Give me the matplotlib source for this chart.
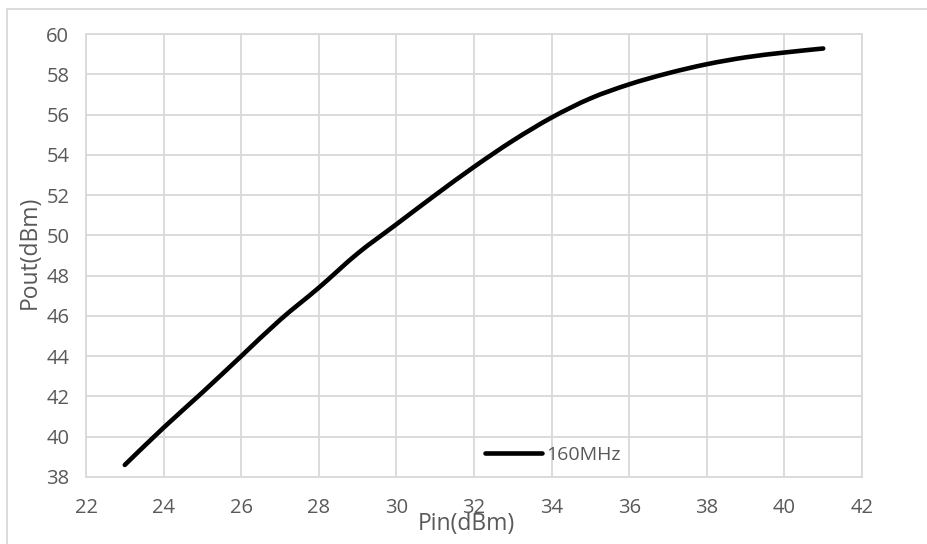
import matplotlib
matplotlib.use("Agg")
import numpy as np
import matplotlib.pyplot as plt
from matplotlib.lines import Line2D
from matplotlib.path import Path
from matplotlib.patches import PathPatch

pin_dbm = [23, 24, 25, 26, 27, 28, 29, 30, 31, 32, 33, 34, 35, 36, 37, 38, 39, 40, 41]
pout_dbm = [38.6, 40.45, 42.2, 44.0, 45.8, 47.4, 49.1, 50.55, 52.0, 53.4, 54.7, 55.85,
            56.8, 57.5, 58.05, 58.5, 58.84, 59.08, 59.28]
series_name = "160MHz"
x_ticks = [22, 24, 26, 28, 30, 32, 34, 36, 38, 40, 42]
y_ticks = [38, 40, 42, 44, 46, 48, 50, 52, 54, 56, 58, 60]

plt.rcParams['font.family'] = ['Open Sans', 'DejaVu Sans']

W, H = 927, 544
fig = plt.figure(figsize=(W / 100, H / 100), dpi=100)
ax = fig.add_axes([86 / W, 1 - 477 / H, (862 - 86) / W, (477 - 34) / H])

grid_c = '#d9d9d9'
text_c = '#595959'
lw = 3.3


def smooth_path(xs, ys, t=1 / 6):
    """Excel-like smoothed line: cubic Bezier segments through the data points."""
    p = np.column_stack([xs, ys]).astype(float)
    n = len(p)
    verts = [p[0]]
    codes = [Path.MOVETO]
    for i in range(n - 1):
        p0 = p[i - 1] if i > 0 else p[i]
        p1, p2 = p[i], p[i + 1]
        p3 = p[i + 2] if i + 2 < n else p[i + 1]
        c1 = p1 + (p2 - p0) * t
        c2 = p2 - (p3 - p1) * t
        verts += [c1, c2, p2]
        codes += [Path.CURVE4] * 3
    return Path(verts, codes)


patch = PathPatch(smooth_path(pin_dbm, pout_dbm), facecolor='none', edgecolor='black',
                  lw=lw, capstyle='round', joinstyle='round', zorder=3)
ax.add_patch(patch)

ax.set_xlim(22, 42)
ax.set_ylim(38, 60)
ax.set_xticks(x_ticks)
ax.set_yticks(y_ticks)
ax.grid(True, color=grid_c, lw=1.3)
ax.set_axisbelow(True)
for s in ax.spines.values():
    s.set_color(grid_c)
    s.set_linewidth(1.3)
ax.tick_params(length=0, labelsize=14.5, labelcolor=text_c)
ax.tick_params(axis='x', pad=15)
ax.tick_params(axis='y', pad=12)

ax.set_xlabel("Pin(dBm)", fontsize=16.5, color=text_c)
ax.xaxis.set_label_coords((466 - 86) / (862 - 86), -(524 - 477) / (477 - 34), transform=ax.transAxes)
ax.xaxis.label.set_va('center')
ax.set_ylabel("Pout(dBm)", fontsize=16.5, color=text_c)
ax.yaxis.set_label_coords(-(86 - 30) / (862 - 86), (477 - 252) / (477 - 34), transform=ax.transAxes)
ax.yaxis.label.set_va('center')

handle = Line2D([], [], color='black', lw=lw, solid_capstyle='round')
leg = ax.legend([handle], [series_name], loc='center left',
                bbox_to_anchor=((485 - 86) / (862 - 86), (477 - 455) / (477 - 34)),
                frameon=False, fontsize=14, handlelength=2.95, handletextpad=0.2,
                borderpad=0, borderaxespad=0, labelcolor=text_c)

# outer chart border (top and left visible)
fig.add_artist(Line2D([7 / W, 1], [1 - 9 / H, 1 - 9 / H], color=grid_c, lw=1.3,
                      transform=fig.transFigure))
fig.add_artist(Line2D([7 / W, 7 / W], [0, 1 - 9 / H], color=grid_c, lw=1.3,
                      transform=fig.transFigure))

fig.savefig("out.png", dpi=100, facecolor='white')
